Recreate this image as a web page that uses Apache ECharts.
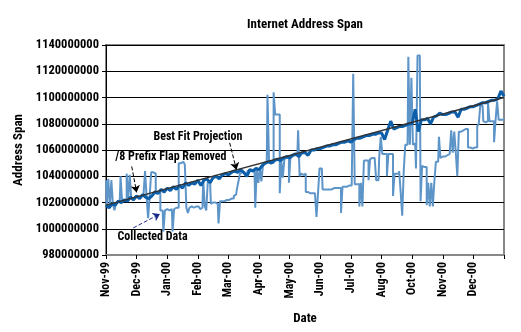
<!DOCTYPE html>
<html>
<head>
<meta charset="utf-8">
<script src="https://cdn.jsdelivr.net/npm/echarts@6/dist/echarts.min.js"></script>
<style>html,body{margin:0;padding:0;background:#fff}#c{width:521px;height:332px}</style>
</head>
<body>
<div id="c"></div>
<script>
// Tick labels on the date axis (one per month position)
const tickLabels = ['Nov-99','Dec-99','Jan-00','Feb-00','Mar-00','Apr-00','May-00','Jun-00','Jul-00','Aug-00','Oct-00','Nov-00','Dec-00'];
// Sample positions in month units (0 = Nov-99 tick)
const flapPos = Array.from({length: 131}, (_, i) => i / 10);      // every 0.1 month
const collectedPos = Array.from({length: 261}, (_, j) => j / 20); // every 0.05 month
// Values in millions
const flapRemoved = [
1018,1016,1019,1018,1021,1020,1022,1021,1024,1022,
1025,1023,1026,1024,1023,1025,1028,1027,1030,1028,
1031,1029,1032,1030,1033,1031,1035,1033,1035,1034,
1037,1033,1037,1038,1035,1039,1040,1038,1041,1042,
1041,1043,1044,1043,1045,1043,1040,1045,1044,1046,
1045,1048,1050,1051,1050,1052,1053,1052,1054,1055,
1054,1056,1057,1055,1058,1058,1056,1060,1060,1061,
1061,1062,1063,1063,1064,1064,1065,1066,1066,1067,
1066,1068,1069,1069,1070,1071,1071,1072,1072,1073,
1073,1068,1075,1082,1076,1077,1078,1078,1079,1080,
1080,1091,1074,1083,1083,1084,1080,1085,1086,1088,
1087,1087,1088,1089,1089,1085,1091,1091,1092,1093,
1093,1094,1095,1096,1096,1097,1098,1098,1099,1105,
1101];
const collected = [
1037,1018,1038,1017,1037,1019,1014,1019,1021,1021,1040,1021,1022,1022,1042,1023,1041,1023,1022,1024,
1025,1024,1023,1025,1026,1025,1044,1025,1008,1024,1043,1043,1042,1027,1027,1028,1014,1014,998,1014,
1015,1014,1014,1015,998,1015,1016,1016,1050,1050,1051,1050,1049,1016,1012,1016,1017,1016,1016,1017,
1017,1016,1015,1016,1038,1017,1014,1036,1036,1019,1020,1020,1019,1019,1004,1021,1021,1021,1021,1022,
1022,1022,1023,1023,1025,1026,1030,1036,1042,1043,1043,1042,1040,1044,1045,1044,1044,1045,1016,1046,
1035,1046,1036,1048,1050,1050,1102,1051,1051,1050,1104,1087,1087,1087,1027,1052,1039,1053,1054,1054,
1035,1055,1056,1056,1057,1056,1075,1040,1042,1041,1042,1028,1028,1027,1027,1027,1027,1027,1009,1027,
1046,1046,1030,1030,1030,1030,1030,1030,1031,1031,1031,1031,1031,1031,1012,1032,1032,1032,1032,1033,
1033,1033,1118,1034,1034,1034,1017,1035,1017,1052,1052,1052,1037,1053,1054,1054,1055,1037,1037,1055,
1070,1057,1057,1057,1040,1057,1057,1057,1025,1042,1042,1042,1044,1028,1010,1044,1064,1064,1131,1064,
1115,1064,1065,1046,1132,1132,1021,1048,1047,1047,1018,1035,1017,1035,1017,1036,1051,1051,1070,1054,
1055,1055,1056,1056,1057,1057,1075,1058,1074,1058,1040,1074,1074,1075,1076,1076,1076,1062,1062,1061,
1060,1062,1062,1078,1080,1094,1094,1082,1081,1082,1097,1082,1082,1082,1066,1083,1097,1083,1083,1083,
1084];
const bestFitPos = [0, 13];
const bestFitVal = [1018, 1100];
const UNIT = 1000000;

// Annotations (data coordinates: month position, value in millions)
const annTexts = ['Best Fit Projection', '/8 Prefix Flap Removed', 'Collected Data'];
const annAt = [[3.0, 1070], [2.12, 1054.4], [1.52, 993.6]];
const arrowFrom = [[4.04, 1065.5], [0.84, 1047.5], [0.89, 1000.6]];
const arrowTo = [[4.26, 1045], [1.0, 1027.7], [1.76, 1011.3]];
const arrowColors = ['#000', '#000', '#1a2a8a'];

const FONT = '"Roboto Condensed", "Liberation Sans", Arial, sans-serif';
const pair = (xs, ys) => xs.map((x, i) => [x, ys[i] * UNIT]);

const chart = echarts.init(document.getElementById('c'), null, {renderer: 'canvas'});
const option = {
  animation: false,
  backgroundColor: '#fff',
  title: {
    text: 'Internet Address Span', left: 300, top: 13, textAlign: 'center',
    textStyle: {fontFamily: FONT, fontSize: 13, fontWeight: 'bold', color: '#000'}
  },
  grid: {left: 106, right: 17, top: 45, bottom: 77, show: true, borderColor: '#888', borderWidth: 2},
  xAxis: {
    type: 'value', min: 0, max: 13, interval: 1,
    name: 'Date', nameLocation: 'middle', nameGap: 57,
    nameTextStyle: {fontFamily: FONT, fontSize: 13, fontWeight: 'bold', color: '#000'},
    axisLine: {lineStyle: {color: '#888', width: 2}},
    axisTick: {show: true, length: 4, lineStyle: {color: '#000'}},
    splitLine: {show: false},
    axisLabel: {
      rotate: 90, margin: 7, color: '#000', fontFamily: FONT, fontSize: 12, fontWeight: 'bold',
      formatter: v => tickLabels[Math.round(v)] || ''
    }
  },
  yAxis: {
    type: 'value', min: 980 * UNIT, max: 1140 * UNIT, interval: 20 * UNIT,
    name: 'Address Span', nameLocation: 'middle', nameGap: 80, nameRotate: 90,
    nameTextStyle: {fontFamily: FONT, fontSize: 13, fontWeight: 'bold', color: '#000'},
    axisLine: {show: true, lineStyle: {color: '#000', width: 1}},
    axisTick: {show: true, length: 4, lineStyle: {color: '#000'}},
    splitLine: {show: true, lineStyle: {color: '#000', width: 1}},
    axisLabel: {margin: 7, color: '#000', fontFamily: FONT, fontSize: 12.5, fontWeight: 'bold', formatter: v => String(v)}
  },
  series: [
    {
      name: 'Collected Data', type: 'line', step: 'middle', showSymbol: false,
      data: pair(collectedPos, collected),
      lineStyle: {color: '#5e95c9', width: 2}, z: 2
    },
    {
      name: '/8 Prefix Flap Removed', type: 'line', showSymbol: false,
      data: pair(flapPos, flapRemoved),
      lineStyle: {color: '#0c5fa8', width: 3}, z: 3
    },
    {
      name: 'Best Fit Projection', type: 'line', showSymbol: false,
      data: pair(bestFitPos, bestFitVal),
      lineStyle: {color: '#333', width: 1.5}, z: 4,
      markLine: {
        silent: true, symbol: ['none', 'arrow'], symbolSize: 7,
        label: {show: false},
        data: arrowFrom.map((f, i) => [
          {coord: [f[0], f[1] * UNIT], lineStyle: {color: arrowColors[i], type: 'dashed', width: 1}, itemStyle: {color: arrowColors[i]}},
          {coord: [arrowTo[i][0], arrowTo[i][1] * UNIT]}
        ])
      }
    }
  ]
};
chart.setOption(option);
const graphics = annTexts.map((t, i) => {
  const p = chart.convertToPixel({gridIndex: 0}, [annAt[i][0], annAt[i][1] * UNIT]);
  return {
    type: 'text', x: p[0], y: p[1], z: 100,
    style: {text: t, fill: '#000', font: 'bold 12px ' + FONT, textAlign: 'center', textVerticalAlign: 'middle'}
  };
});
chart.setOption({graphic: graphics});
</script>
</body>
</html>
